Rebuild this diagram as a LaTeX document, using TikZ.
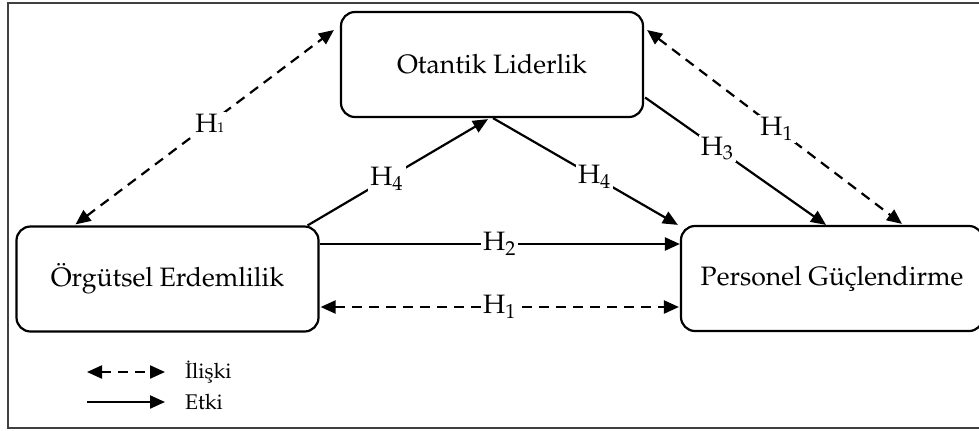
\documentclass[tikz,border=0pt]{standalone}
\usepackage[T1]{fontenc}
\usepackage{mathpazo}
\usetikzlibrary{arrows.meta,calc}

\begin{document}
\begin{tikzpicture}[x=0.5pt,y=-0.5pt,
  kutu/.style={draw, line width=1.1pt, rounded corners=7pt, minimum width=151pt, minimum height=52.5pt, font=\fontsize{13.3}{16}\selectfont},
  etki/.style={line width=1.1pt, -{Triangle[length=7.5pt,width=6.5pt]}},
  iliski/.style={line width=1.1pt, {Triangle[length=7.5pt,width=6.5pt]}-{Triangle[length=7.5pt,width=6.5pt]}, dash pattern=on 5pt off 3.5pt},
  hlabel/.style={fill=white, inner sep=1pt, font=\fontsize{13.3}{16}\selectfont}]

\useasboundingbox (0,0) rectangle (979,430);
\draw [black!75, line width=1pt] (8,3) rectangle (990,428);

\node [kutu] (ol) at (492,64.5) {Otantik Liderlik};
\node [kutu] (oe) at (167.5,279) {\"Org\"utsel Erdemlilik};
\node [kutu] (pg) at (832,278.5) {Personel G\"u\c{c}lendirme};

\draw [iliski] ($(oe.north)+(-92,-1)$) -- node [hlabel,pos=0.52] {H{\scriptsize 1}} ($(ol.west)+(-6,-34.5)$);
\draw [etki] ($(oe.north east)+(-12,0)$) -- node [hlabel,pos=0.44] {H\textsubscript{4}} ($(ol.south)+(-4,1)$);
\draw [etki] ($(ol.south)+(1,0)$) -- node [hlabel,pos=0.55] {H\textsubscript{4}} ($(pg.north west)+(-2,0)$);
\draw [etki] ($(ol.east)+(1,33)$) -- node [hlabel,pos=0.4] {H\textsubscript{3}} ($(pg.north)+(-6,0)$);
\draw [iliski] ($(ol.east)+(3,-34.5)$) -- node [hlabel,pos=0.51] {H\textsubscript{1}} ($(pg.north)+(70,-1)$);
\draw [etki] ($(oe.east)+(0,-35)$) -- node [hlabel] {H\textsubscript{2}} ($(pg.west)+(0,-34.5)$);
\draw [iliski] ($(oe.east)+(1,28)$) -- node [hlabel] {H\textsubscript{1}} ($(pg.west)+(-1,28.5)$);

\node [anchor=west, font=\fontsize{10.6}{13}\selectfont] (lrel) at (178,372) {\.{I}li\c{s}ki};
\node [anchor=west, font=\fontsize{10.6}{13}\selectfont] (let) at (178,402) {Etki};
\draw [iliski] ($(lrel.west)+(-91,0)$) -- ($(lrel.west)+(-13,0)$);
\draw [etki] ($(let.west)+(-91,0)$) -- ($(let.west)+(-13,0)$);
\end{tikzpicture}
\end{document}
